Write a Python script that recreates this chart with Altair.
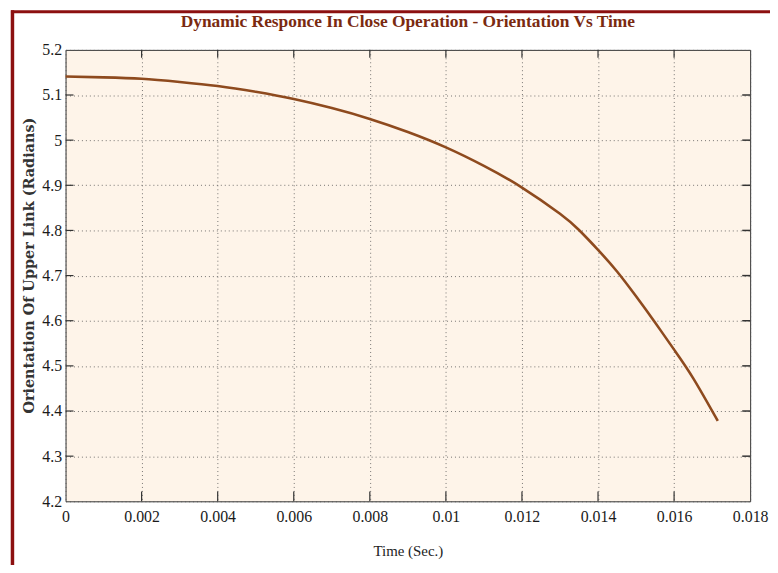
import altair as alt
import pandas as pd

# Data
time_s = [0, 0.001, 0.002, 0.003, 0.004, 0.005, 0.006, 0.007, 0.008, 0.009,
          0.010, 0.011, 0.012, 0.013, 0.0135, 0.014, 0.0145, 0.015, 0.0155,
          0.016, 0.0165, 0.01715]
orientation = [5.141, 5.139, 5.136, 5.129, 5.120, 5.107, 5.091, 5.071, 5.047,
               5.018, 4.984, 4.943, 4.895, 4.837, 4.801, 4.757, 4.709, 4.654,
               4.596, 4.536, 4.473, 4.378]

x_ticks = [0, 0.002, 0.004, 0.006, 0.008, 0.01, 0.012, 0.014, 0.016, 0.018]
y_ticks = [4.2, 4.3, 4.4, 4.5, 4.6, 4.7, 4.8, 4.9, 5.0, 5.1, 5.2]

title_text = "Dynamic Responce In Close Operation - Orientation Vs Time"
x_title = "Time (Sec.)"
y_title = "Orientation  Of  Upper  Link  (Radians)"

W, H = 690, 455
FRAME = "#8c1010"
LINE = "#8e4a1e"
TICK = "#333333"

df = pd.DataFrame({"t": time_s, "v": orientation})
df_xt = pd.DataFrame({"t": x_ticks[1:-1]})
df_yt = pd.DataFrame({"v": y_ticks[1:-1]})

x_scale = alt.Scale(domain=[0, 0.018], nice=False, zero=False)
y_scale = alt.Scale(domain=[4.2, 5.2], nice=False, zero=False)

x_axis = alt.Axis(values=x_ticks, format="~g", title=x_title, grid=True,
                  gridDash=[1, 3], gridColor="#555555", gridOpacity=0.8,
                  ticks=False, domain=False, labelFont="Liberation Serif",
                  labelFontSize=16, labelColor="#1a1a1a", labelPadding=7,
                  titleFont="Liberation Serif", titleFontSize=15,
                  titleFontWeight="normal", titleColor="#222222",
                  titlePadding=20, labelFlush=False)
y_axis = alt.Axis(values=y_ticks, format="~g", title=y_title, grid=True,
                  gridDash=[1, 3], gridColor="#555555", gridOpacity=0.8,
                  ticks=False, domain=False, labelFont="Liberation Serif",
                  labelFontSize=16, labelColor="#1a1a1a", labelPadding=4,
                  titleFont="DejaVu Serif", titleFontSize=14.5,
                  titleFontWeight="bold", titleColor="#333333",
                  titlePadding=5, titleY=217, labelFlush=False)

X = alt.X("t:Q", scale=x_scale, axis=x_axis)
Y = alt.Y("v:Q", scale=y_scale, axis=y_axis)

line = alt.Chart(df).mark_line(color=LINE, strokeWidth=2.6,
                               interpolate="natural").encode(x=X, y=Y)

left_ticks = alt.Chart(df_yt).mark_rule(color=TICK, strokeWidth=1.2).encode(
    y=alt.Y("v:Q", scale=y_scale), x=alt.value(0), x2=alt.value(8))
right_ticks = alt.Chart(df_yt).mark_rule(color=TICK, strokeWidth=1.5).encode(
    y=alt.Y("v:Q", scale=y_scale), x=alt.value(W - 8), x2=alt.value(W))
bottom_ticks = alt.Chart(df_xt).mark_rule(color=TICK, strokeWidth=1.2).encode(
    x=alt.X("t:Q", scale=x_scale), y=alt.value(H), y2=alt.value(H - 10))
top_ticks = alt.Chart(df_xt).mark_rule(color=TICK, strokeWidth=1.2).encode(
    x=alt.X("t:Q", scale=x_scale), y=alt.value(0), y2=alt.value(8))

frame_df = pd.DataFrame({"k": [0]})
frame_left = alt.Chart(frame_df).mark_rule(color=FRAME, strokeWidth=3.5).encode(
    x=alt.value(-53.5), y=alt.value(-40), y2=alt.value(H + 80))
frame_top = alt.Chart(frame_df).mark_rule(color=FRAME, strokeWidth=3).encode(
    x=alt.value(-55), x2=alt.value(W + 30), y=alt.value(-38.5))

chart = alt.layer(
    line, left_ticks, right_ticks, bottom_ticks, top_ticks, frame_left, frame_top
).properties(
    width=W, height=H,
    title=alt.TitleParams(title_text, font="Liberation Serif", fontSize=17.5,
                          fontWeight="bold", color="#7a2a10", anchor="middle",
                          frame="group", offset=0, dy=22),
    autosize=alt.AutoSizeParams(type="none"),
    padding={"left": 58, "top": 40, "right": 20, "bottom": 62},
    background="white",
).configure_view(
    fill="#fef4e9", stroke="#333333", strokeWidth=1
)

chart.save("out.html", embed_options={"renderer": "svg", "actions": False})
